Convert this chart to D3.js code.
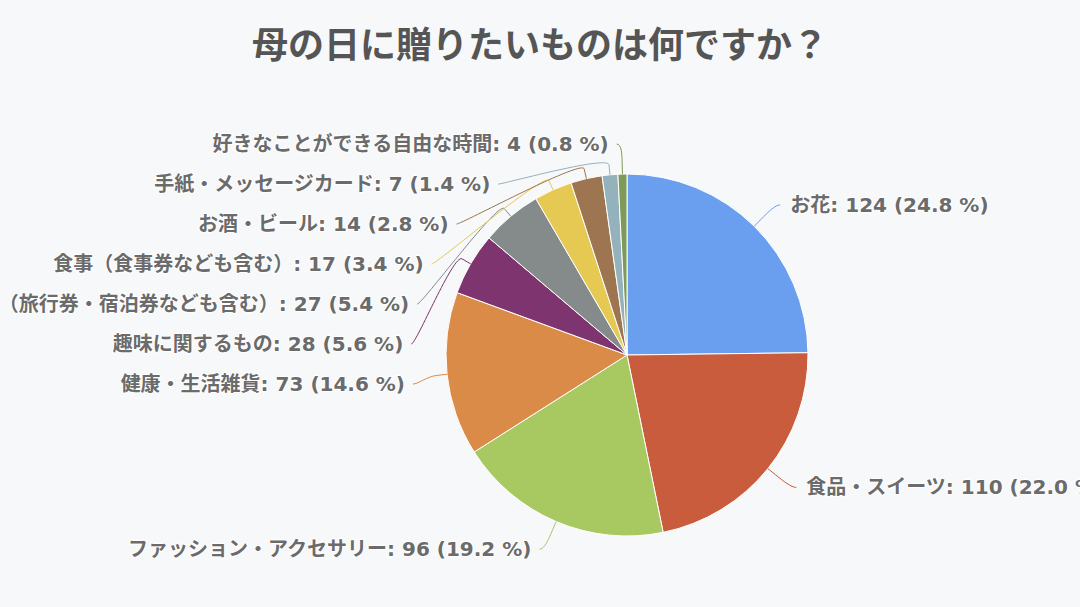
<!DOCTYPE html>
<html>
<head>
<meta charset="utf-8">
<script src="https://cdn.jsdelivr.net/npm/d3@7"></script>
<style>
  html, body { margin: 0; padding: 0; background: #f7f8fa; }
  svg { display: block; }
</style>
</head>
<body>
<div id="chart"></div>
<script>
var title = "母の日に贈りたいものは何ですか？";
var categories = ["お花", "食品・スイーツ", "ファッション・アクセサリー", "健康・生活雑貨", "趣味に関するもの",
    "旅行（旅行券・宿泊券なども含む）", "食事（食事券なども含む）", "お酒・ビール", "手紙・メッセージカード", "好きなことができる自由な時間"];
var values = [124, 110, 96, 73, 28, 27, 17, 14, 7, 4];
var colors = ["#6a9ff0", "#c95c3c", "#a8c862", "#db8b48", "#7e346e", "#858a8b", "#e5c953", "#9d7550", "#93b2bb", "#7d9a57"];

var width = 1080, height = 607;
var cx = 627, cy = 355, r = 181;
var labelDist = 30, rowH = 40;

var svg = d3.select("#chart").append("svg")
    .attr("width", width)
    .attr("height", height);

svg.append("rect").attr("width", width).attr("height", height).attr("fill", "#f7f8fa");

svg.append("text")
    .attr("x", width / 2)
    .attr("y", 45)
    .attr("dy", "0.35em")
    .attr("text-anchor", "middle")
    .style("font-family", "'Noto Sans CJK JP', sans-serif")
    .style("font-weight", "bold")
    .style("font-size", "36px")
    .style("fill", "#555555")
    .text(title);

var total = d3.sum(values);
var data = categories.map(function (c, i) { return { name: c, value: values[i], color: colors[i] }; });

var pie = d3.pie().sort(null).value(function (d) { return d.value; });
var arcs = pie(data);
var arc = d3.arc().innerRadius(0).outerRadius(r);

var g = svg.append("g").attr("transform", "translate(" + cx + "," + cy + ")");

g.selectAll("path.slice")
    .data(arcs)
    .enter().append("path")
    .attr("class", "slice")
    .attr("d", arc)
    .attr("fill", function (d) { return d.data.color; })
    .attr("stroke", "#ffffff")
    .attr("stroke-width", 1);

// label layout, highcharts style
var R = r + labelDist;
var topBound = -R;
arcs.forEach(function (a) {
    a.mid = (a.startAngle + a.endAngle) / 2;
    a.left = a.mid > Math.PI;
    a.naturalY = -R * Math.cos(a.mid);
});

[true, false].forEach(function (side) {
    var list = arcs.filter(function (a) { return a.left === side; })
        .sort(function (a, b) { return a.naturalY - b.naturalY; });
    var prev = -Infinity;
    list.forEach(function (a) {
        a.y = Math.max(a.naturalY, prev + rowH, topBound);
        prev = a.y;
    });
});

arcs.forEach(function (a) {
    var yy = (a.y < topBound + 2) ? a.naturalY : a.y;
    var dx = Math.sqrt(Math.max(R * R - yy * yy, 0)) + 5;
    a.ax = a.left ? -dx : dx;
    a.touch = [r * Math.sin(a.mid), -r * Math.cos(a.mid)];
    a.brk = [(r + 10) * Math.sin(a.mid), -(r + 10) * Math.cos(a.mid)];
});

g.selectAll("path.connector")
    .data(arcs)
    .enter().append("path")
    .attr("class", "connector")
    .attr("fill", "none")
    .attr("stroke", function (d) { return d.data.color; })
    .attr("stroke-width", 1)
    .attr("d", function (d) {
        var p = d3.path();
        p.moveTo(d.ax, d.y);
        p.bezierCurveTo(d.ax + (d.left ? 5 : -5), d.y,
            2 * d.brk[0] - d.touch[0], 2 * d.brk[1] - d.touch[1],
            d.brk[0], d.brk[1]);
        p.lineTo(d.touch[0], d.touch[1]);
        return p.toString();
    });

g.selectAll("text.label")
    .data(arcs)
    .enter().append("text")
    .attr("class", "label")
    .attr("x", function (d) { return d.left ? d.ax - 8 : d.ax + 10; })
    .attr("y", function (d) { return d.y; })
    .attr("dy", "0.35em")
    .attr("text-anchor", function (d) { return d.left ? "end" : "start"; })
    .style("font-family", "'DejaVu Sans', 'Noto Sans CJK JP', sans-serif")
    .style("font-weight", "bold")
    .style("font-size", "20px")
    .style("fill", "#6b6b6b")
    .style("stroke", "#ffffff")
    .style("stroke-width", 2)
    .style("paint-order", "stroke")
    .style("stroke-linejoin", "round")
    .text(function (d) {
        return d.data.name + ": " + d.data.value + " (" + (d.data.value / total * 100).toFixed(1) + " %)";
    });
</script>
</body>
</html>
